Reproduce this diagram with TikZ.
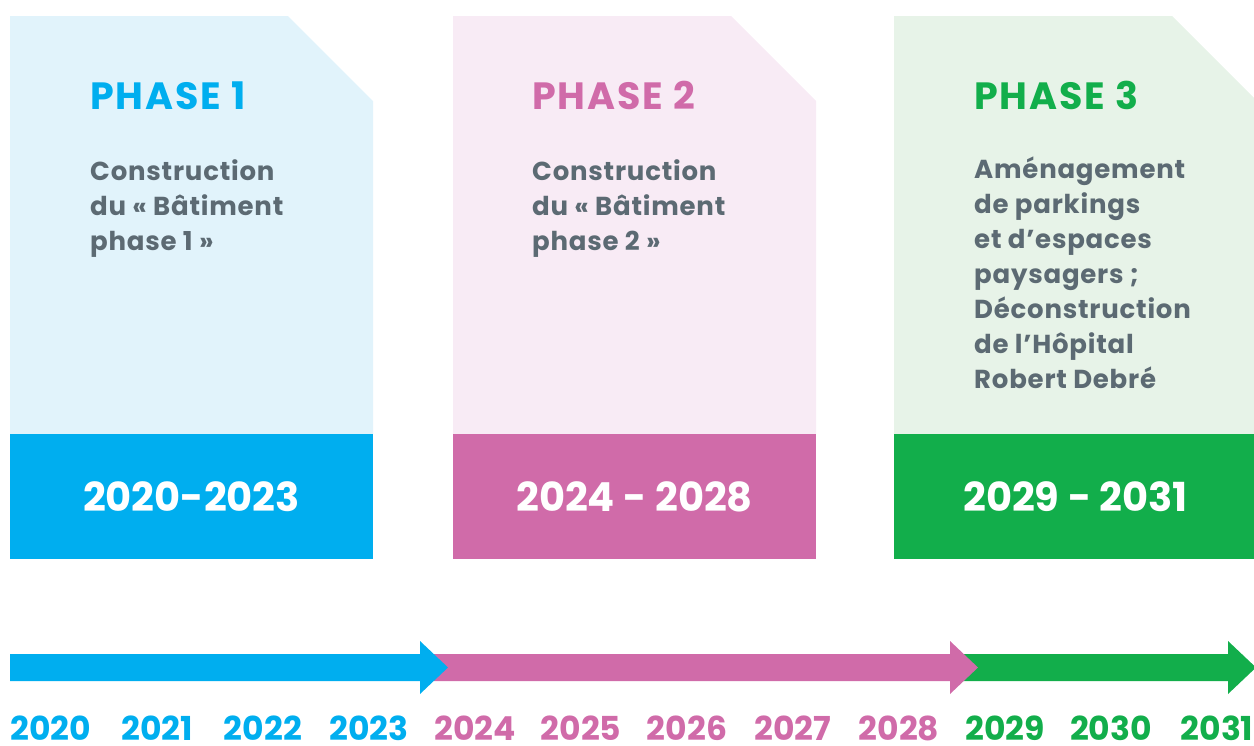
\documentclass[tikz,border=0pt]{standalone}
\usepackage{fontspec}
\setmainfont{Poppins}
\definecolor{cblue}{HTML}{00AEEF}
\definecolor{lblue}{HTML}{E1F3FB}
\definecolor{cpink}{HTML}{D06BA9}
\definecolor{lpink}{HTML}{F8EBF5}
\definecolor{cgreen}{HTML}{12AE4B}
\definecolor{lgreen}{HTML}{E7F3E8}
\definecolor{tgray}{HTML}{5C6A73}
\begin{document}
\begin{tikzpicture}[x=1pt,y=-1pt,
  yearbox/.style={minimum width=363pt,minimum height=125pt,inner sep=0pt,text=white,font=\fontsize{40}{40}\selectfont\bfseries},
  phasetitle/.style={anchor=base west,inner sep=0pt,font=\fontsize{38}{38}\selectfont\bfseries\addfontfeatures{LetterSpace=5}},
  body/.style={anchor=north west,inner sep=0pt,align=left,text=tgray,font=\fontsize{26}{35}\selectfont\bfseries\addfontfeatures{LetterSpace=3}},
  yearlab/.style={anchor=base,inner sep=0pt,font=\fontsize{33}{33}\selectfont\bfseries}]
\useasboundingbox (0,0) rectangle (1254,745);
% panels
\fill[lblue] (10,16) -- (288,16) -- (373,101) -- (373,434) -- (10,434) -- cycle;
\fill[lpink] (453,16) -- (731,16) -- (816,101) -- (816,434) -- (453,434) -- cycle;
\fill[lgreen] (894,16) -- (1172,16) -- (1257,101) -- (1257,434) -- (894,434) -- cycle;
\node[yearbox,fill=cblue] (y1) at (191.5,496.5) {2020-2023};
\node[yearbox,fill=cpink] (y2) at (634.5,496.5) {2024 - 2028};
\node[yearbox,fill=cgreen] (y3) at (1075.5,496.5) {2029 - 2031};
% titles
\node[phasetitle,text=cblue] (p1) at (90,109) {PHASE 1};
\node[phasetitle,text=cpink] (p2) at (532,109) {PHASE 2};
\node[phasetitle,text=cgreen] (p3) at (974,109) {PHASE 3};
% bodies
\node[body] (b1) at (90,159) {Construction\\du « Bâtiment\\phase 1 »};
\node[body] (b2) at (532,159) {Construction\\du « Bâtiment\\phase 2 »};
\node[body] (b3) at (974,157) {Aménagement\\de parkings\\et d’espaces\\paysagers ;\\Déconstruction\\de l’Hôpital\\Robert Debré};
% timeline arrows
\fill[cgreen] (950,654) -- (1228,654) -- (1228,641) -- (1256,667.5) -- (1228,694) -- (1228,681) -- (950,681) -- cycle;
\fill[cpink] (420,654) -- (950,654) -- (950,641) -- (978,667.5) -- (950,694) -- (950,681) -- (420,681) -- cycle;
\fill[cblue] (10,654) -- (420,654) -- (420,641) -- (448,667.5) -- (420,694) -- (420,681) -- (10,681) -- cycle;
% year labels
\foreach \yr/\c [count=\i from 0] in {2020/cblue,2021/cblue,2022/cblue,2023/cblue,2024/cpink,2025/cpink,2026/cpink,2027/cpink,2028/cpink,2029/cgreen,2030/cgreen,2031/cgreen}{
  \node[yearlab,text=\c] (yl\i) at (51+106*\i,740) {\yr};
}
\end{tikzpicture}
\end{document}
